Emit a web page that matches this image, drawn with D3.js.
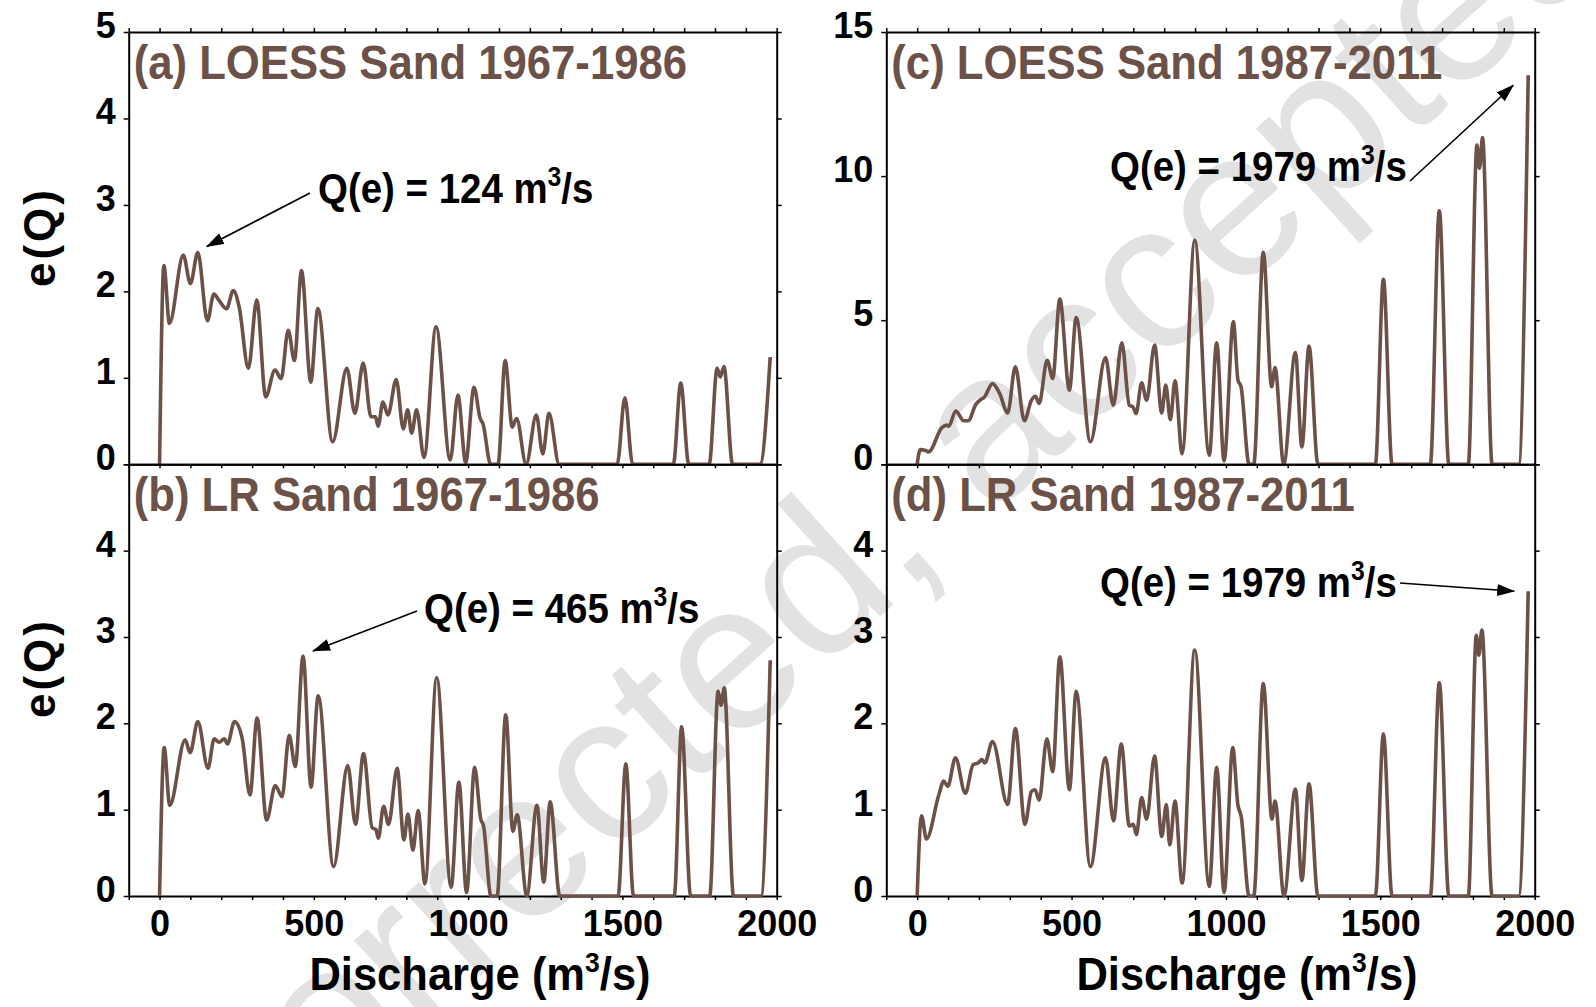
<!DOCTYPE html>
<html>
<head>
<meta charset="utf-8">
<script src="https://cdn.jsdelivr.net/npm/d3@7"></script>
<style>
  html, body { margin: 0; padding: 0; background: #fff; }
  svg { display: block; }
</style>
</head>
<body>
<svg id="chart" width="1596" height="1007"></svg>
<script>
// Discharge axis ticks (m3/s)
const dischargeTicks = [0, 500, 1000, 1500, 2000];

// (a) LOESS, sand, 1967-1986
const loessEarlyQ = [0, 14, 32, 77, 100, 124, 155, 176, 192, 217, 239, 258, 288, 315, 344, 374, 394, 417, 437, 460,
  490, 513, 561, 607, 633, 660, 685, 700, 708, 724, 740, 767, 790, 804, 817, 833, 857, 896, 942, 967,
  992, 1019, 1039, 1048, 1073, 1097, 1120, 1143, 1157, 1188, 1221, 1242, 1262, 1295, 1483, 1508, 1533, 1665, 1689, 1715,
  1781, 1807, 1817, 1829, 1857, 1946, 1979];
const loessEarlyE = [0, 2.30, 1.63, 2.42, 2.09, 2.45, 1.66, 1.97, 1.90, 1.80, 2.01, 1.82, 1.11, 1.90, 0.78, 1.09, 0.99, 1.55, 1.20, 2.24,
  0.95, 1.80, 0.26, 1.11, 0.59, 1.17, 0.55, 0.55, 0.44, 0.72, 0.57, 0.98, 0.41, 0.63, 0.36, 0.63, 0.08, 1.59, 0.05, 0.80,
  0.02, 0.89, 0.53, 0.47, 0, 0, 1.20, 0.43, 0.53, 0, 0.57, 0.12, 0.59, 0, 0, 0.77, 0, 0, 0.94, 0,
  0, 1.11, 1.01, 1.13, 0, 0, 1.24];

// (b) LR, sand, 1967-1986
const lrEarlyQ = [0, 15, 33, 83, 99, 124, 157, 177, 193, 210, 220, 243, 268, 293, 316, 347, 375, 397, 420, 440,
  465, 491, 514, 564, 610, 635, 661, 689, 701, 709, 726, 742, 770, 792, 805, 821, 838, 860, 898, 945,
  970, 995, 1021, 1041, 1050, 1074, 1094, 1122, 1145, 1159, 1190, 1223, 1245, 1266, 1297, 1486, 1511, 1536, 1668, 1692,
  1721, 1783, 1810, 1820, 1830, 1860, 1949, 1979];
const lrEarlyE = [0, 1.72, 1.05, 1.81, 1.66, 2.02, 1.48, 1.82, 1.78, 1.82, 1.76, 2.02, 1.82, 1.17, 2.06, 0.88, 1.28, 1.15, 1.86, 1.50,
  2.78, 1.26, 2.32, 0.34, 1.51, 0.83, 1.65, 0.79, 0.77, 0.67, 1.04, 0.83, 1.48, 0.65, 0.95, 0.53, 0.99, 0.14, 2.53, 0.10,
  1.32, 0.04, 1.49, 0.89, 0.81, 0, 0, 2.10, 0.75, 0.94, 0, 1.05, 0.16, 1.09, 0, 0, 1.53, 0, 0, 1.96,
  0, 0, 2.37, 2.21, 2.41, 0, 0, 2.73];

// (c) LOESS, sand, 1987-2011
const loessLateQ = [0, 10, 25, 37, 80, 96, 102, 125, 151, 165, 190, 206, 217, 244, 267, 293, 318, 347, 370, 383,
  395, 421, 439, 462, 493, 515, 561, 610, 635, 663, 687, 699, 709, 727, 743, 769, 792, 805, 820, 835,
  858, 899, 946, 970, 994, 1024, 1039, 1049, 1075, 1090, 1121, 1148, 1159, 1187, 1225, 1246, 1269, 1298, 1484, 1510,
  1538, 1662, 1691, 1722, 1785, 1813, 1821, 1831, 1862, 1948, 1979];
const loessLateE = [0, 0.51, 0.49, 0.43, 1.27, 1.36, 1.32, 1.85, 1.51, 1.51, 2.08, 2.25, 2.32, 2.80, 2.46, 1.78, 3.38, 1.51, 2.22, 2.36,
  2.11, 3.61, 2.98, 5.73, 2.57, 5.09, 0.78, 3.70, 2.05, 4.22, 2.05, 1.99, 1.76, 2.83, 2.22, 4.14, 1.78, 2.75, 1.55, 2.90,
  0.37, 7.78, 0.31, 4.22, 0.12, 4.95, 2.92, 2.69, 0, 0, 7.36, 2.69, 3.36, 0, 3.88, 0.60, 4.10, 0, 0, 6.42,
  0, 0, 8.80, 0, 0, 11.08, 10.27, 11.34, 0, 0, 13.5];

// (d) LR, sand, 1987-2011
const lrLateQ = [0, 14, 30, 70, 86, 99, 124, 156, 181, 197, 210, 219, 244, 293, 318, 349, 370, 382, 395, 420,
  439, 462, 493, 515, 561, 610, 636, 661, 687, 700, 710, 727, 743, 769, 792, 807, 818, 835, 858, 899,
  946, 970, 994, 1022, 1039, 1049, 1075, 1090, 1121, 1149, 1159, 1188, 1225, 1246, 1269, 1298, 1484, 1510, 1538, 1662,
  1691, 1722, 1785, 1811, 1819, 1829, 1862, 1948, 1979];
const lrLateE = [0, 0.93, 0.66, 1.17, 1.33, 1.27, 1.60, 1.19, 1.52, 1.54, 1.58, 1.54, 1.79, 1.06, 1.94, 0.83, 1.21, 1.23, 1.11, 1.82,
  1.44, 2.77, 1.23, 2.37, 0.34, 1.60, 0.87, 1.76, 0.81, 0.83, 0.71, 1.14, 0.89, 1.62, 0.69, 1.06, 0.59, 1.10, 0.15, 2.85,
  0.11, 1.49, 0.04, 1.72, 1.05, 0.93, 0, 0, 2.46, 0.89, 1.10, 0, 1.24, 0.18, 1.30, 0, 0, 1.88, 0, 0,
  2.47, 0, 0, 3.02, 2.79, 3.08, 0, 0, 3.53];

// Peak annotations: effective discharge and its e(Q)
const peakQ = [124, 465, 1979, 1979];
const peakE = [2.45, 2.78, 13.5, 3.53];

const panelTitles = ['(a) LOESS Sand 1967-1986', '(b) LR Sand 1967-1986', '(c) LOESS Sand 1987-2011', '(d) LR Sand 1987-2011'];

// ---------------------------------------------------------------------------
const FONT = '"Liberation Sans", Arial, Helvetica, sans-serif';
const INK = '#6b5147';
const svg = d3.select('#chart');

// background stamp text
svg.append('text')
  .attr('transform', 'translate(253,1181) rotate(-42)')
  .attr('font-family', FONT)
  .attr('font-size', 210)
  .attr('fill', '#e2e2e2')
  .text('corrected, accepted');

const cols = [{ left: 128.7, right: 776.7 }, { left: 886.3, right: 1534.7 }];
const rows = [{ top: 32, bottom: 464.3 }, { top: 464.3, bottom: 896 }];

const panels = [
  { col: 0, row: 0, q: loessEarlyQ, e: loessEarlyE, yMax: 5, yStep: 1, labelTop: true, title: panelTitles[0],
    note: { idx: 0, tx: 318, ty: 203, from: [310, 193], off: [9, -6] } },
  { col: 0, row: 1, q: lrEarlyQ, e: lrEarlyE, yMax: 5, yStep: 1, labelTop: false, title: panelTitles[1],
    note: { idx: 1, tx: 424, ty: 623, from: [417, 611], off: [10, -5] } },
  { col: 1, row: 0, q: loessLateQ, e: loessLateE, yMax: 15, yStep: 5, labelTop: true, title: panelTitles[2],
    note: { idx: 2, tx: 1110, ty: 181, from: [1410, 181], off: [-15, 10] } },
  { col: 1, row: 1, q: lrLateQ, e: lrLateE, yMax: 5, yStep: 1, labelTop: false, title: panelTitles[3],
    note: { idx: 3, tx: 1100, ty: 597, from: [1400, 583], off: [-14, 0] } }
];

// arrowhead
svg.append('defs').append('marker')
  .attr('id', 'arrowhead')
  .attr('viewBox', '0 0 18 12')
  .attr('refX', 17).attr('refY', 6)
  .attr('markerWidth', 18).attr('markerHeight', 12)
  .attr('markerUnits', 'userSpaceOnUse')
  .attr('orient', 'auto')
  .append('path').attr('d', 'M0,0 L18,6 L0,12 Z').attr('fill', '#000');

function styleAxis(g) {
  g.select('.domain').attr('stroke', '#000').attr('stroke-width', 2);
  g.selectAll('.tick line').attr('stroke', '#000').attr('stroke-width', 1.5);
  g.selectAll('text')
    .attr('font-family', FONT).attr('font-weight', 'bold')
    .attr('font-size', 36).attr('fill', '#000');
}

panels.forEach(p => {
  const c = cols[p.col], r = rows[p.row];
  const x = d3.scaleLinear().domain([-100, 2000]).range([c.left, c.right]);
  const y = d3.scaleLinear().domain([0, p.yMax]).range([r.bottom, r.top]);
  const g = svg.append('g');
  const minorX = d3.range(-100, 2001, 100);
  const yTicks = d3.range(0, p.yMax + 0.001, p.yStep);

  // top frame
  g.append('g').attr('transform', `translate(0,${r.top})`)
    .call(d3.axisTop(x).tickValues(minorX).tickSize(p.row === 0 ? 4 : 0).tickSizeOuter(0).tickFormat(''))
    .call(styleAxis);
  // bottom axis
  g.append('g').attr('transform', `translate(0,${r.bottom})`)
    .call(d3.axisBottom(x).tickValues(minorX).tickSize(4).tickPadding(10).tickSizeOuter(0)
      .tickFormat(d => (p.row === 1 && dischargeTicks.includes(d)) ? d : ''))
    .call(styleAxis);
  // left axis
  g.append('g').attr('transform', `translate(${c.left},0)`)
    .call(d3.axisLeft(y).tickValues(yTicks).tickSize(5).tickPadding(8).tickSizeOuter(0)
      .tickFormat(d => (d === p.yMax && !p.labelTop) ? '' : d))
    .call(styleAxis)
    .call(a => a.selectAll('text').attr('y', -6));
  // right frame
  g.append('g').attr('transform', `translate(${c.right},0)`)
    .call(d3.axisRight(y).tickValues(yTicks).tickSize(5).tickSizeOuter(0).tickFormat(''))
    .call(styleAxis);

  // e(Q) curve
  const pts = d3.zip(p.q, p.e);
  const line = d3.line().x(d => x(d[0])).y(d => y(d[1])).curve(d3.curveMonotoneX);
  g.append('path').datum(pts)
    .attr('d', line)
    .attr('fill', 'none')
    .attr('stroke', INK)
    .attr('stroke-width', 3.6)
    .attr('stroke-linejoin', 'round');

  // panel title (condensed bold)
  g.append('text')
    .attr('transform', `translate(${c.left + 5},${r.top + 47}) scale(0.91,1)`)
    .attr('font-family', FONT).attr('font-weight', 'bold').attr('font-size', 48)
    .attr('fill', INK)
    .text(p.title);

  // effective discharge annotation
  const n = p.note;
  const t = g.append('text')
    .attr('transform', `translate(${n.tx},${n.ty}) scale(0.915,1)`)
    .attr('font-family', FONT).attr('font-weight', 'bold').attr('font-size', 42)
    .attr('fill', '#000');
  t.append('tspan').text(`Q(e) = ${peakQ[n.idx]} m`);
  t.append('tspan').attr('dy', -17).attr('font-size', 27).text('3');
  t.append('tspan').attr('dy', 17).text('/s');
  g.append('line')
    .attr('x1', n.from[0]).attr('y1', n.from[1])
    .attr('x2', x(peakQ[n.idx]) + n.off[0]).attr('y2', y(peakE[n.idx]) + n.off[1])
    .attr('stroke', '#000').attr('stroke-width', 1.6)
    .attr('marker-end', 'url(#arrowhead)');
});

// axis titles
[237, 668].forEach(cy => {
  svg.append('text')
    .attr('transform', `translate(55,${cy}) rotate(-90)`)
    .attr('text-anchor', 'middle')
    .attr('font-family', FONT).attr('font-weight', 'bold').attr('font-size', 44)
    .attr('letter-spacing', 3)
    .attr('fill', '#000')
    .text('e(Q)');
});
[480, 1247].forEach(cx => {
  const t = svg.append('text')
    .attr('transform', `translate(${cx},990) scale(0.946,1)`)
    .attr('text-anchor', 'middle')
    .attr('font-family', FONT).attr('font-weight', 'bold').attr('font-size', 46)
    .attr('fill', '#000');
  t.append('tspan').text('Discharge (m');
  t.append('tspan').attr('dy', -18).attr('font-size', 28).text('3');
  t.append('tspan').attr('dy', 18).text('/s)');
});
</script>
</body>
</html>
